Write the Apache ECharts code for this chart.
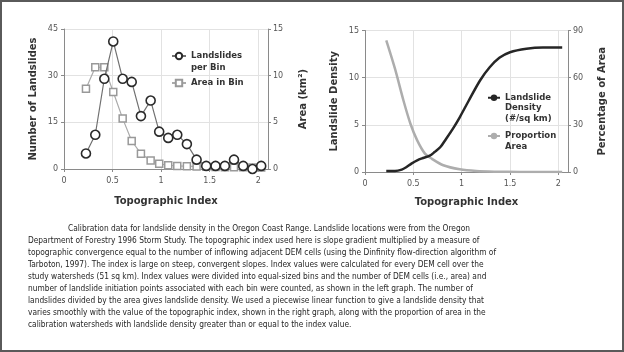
<!DOCTYPE html>
<html>
<head>
<meta charset="utf-8">
<script src="https://cdn.jsdelivr.net/npm/echarts@6/dist/echarts.min.js"></script>
<style>
html,body{margin:0;padding:0;background:#fff;}
#c{width:624px;height:352px;}
</style>
</head>
<body>
<div id="c"></div>
<script>
// ---- Left chart data ----
const binIndex = [0.226,0.322,0.415,0.507,0.604,0.697,0.792,0.892,0.98,1.073,1.166,1.265,1.365,1.464,1.56,1.656,1.75,1.845,1.94,2.03];
const landslidesPerBin = [5,11,29,41,29,28,17,22,12,10,11,8,3,1,1,1,3,1,0,1];
const areaInBin = [8.6,10.9,10.9,8.25,5.4,3.0,1.64,0.9,0.55,0.4,0.32,0.3,0.27,0.25,0.22,0.2,0.2,0.18,0.15,0.15];

// ---- Right chart data ----
const densityIndex = [0.22,0.31,0.38,0.43,0.48,0.54,0.60,0.67,0.72,0.78,0.84,0.91,0.98,1.07,1.19,1.29,1.39,1.50,1.67,1.84,2.04];
const densityValues = [0.1,0.1,0.25,0.53,0.89,1.24,1.48,1.73,2.12,2.65,3.53,4.6,5.8,7.5,9.7,11.1,12.1,12.7,13.07,13.2,13.2];
const propIndex = [0.22,0.31,0.40,0.47,0.54,0.62,0.69,0.81,0.98,1.15,1.35,1.6,2.04];
const propValues = [83.7,65.7,45,30.7,20.1,11.7,8.5,4.3,1.7,0.6,0.2,0.05,0];

// ---- Texts ----
const xTitle = 'Topographic Index';
const leftY1Title = 'Number of Landslides';
const leftY2Title = 'Area (km²)';
const rightY1Title = 'Landslide Density';
const rightY2Title = 'Percentage of Area';
const seriesNames = ['Landslides per Bin','Area in Bin','Landslide Density (#/sq km)','Proportion Area'];
const legendLabels = ['\nLandslides\nper Bin','Area in Bin','\n\nLandslide\nDensity\n(#/sq km)','\nProportion\nArea'];
const captionLines = [
 'Calibration data for landslide density in the Oregon Coast Range. Landslide locations were from the Oregon',
 'Department of Forestry 1996 Storm Study. The topographic index used here is slope gradient multiplied by a measure of',
 'topographic convergence equal to the number of inflowing adjacent DEM cells (using the Dinfinity flow-direction algorithm of',
 'Tarboton, 1997). The index is large on steep, convergent slopes. Index values were calculated for every DEM cell over the',
 'study watersheds (51 sq km). Index values were divided into equal-sized bins and the number of DEM cells (i.e., area) and',
 'number of landslide initiation points associated with each bin were counted, as shown in the left graph. The number of',
 'landslides divided by the area gives landslide density. We used a piecewise linear function to give a landslide density that',
 'varies smoothly with the value of the topographic index, shown in the right graph, along with the proportion of area in the',
 'calibration watersheds with landslide density greater than or equal to the index value.'
];

const zip = (a,b) => a.map((v,i)=>[v,b[i]]);

const FONT = 'DejaVu Sans';
const CAPFONT = '"DejaVu Sans Condensed", "DejaVu Sans", sans-serif';
const ctx = document.createElement('canvas').getContext('2d');
ctx.font = '10px ' + CAPFONT;
const capSize = 10 * 452 / ctx.measureText(captionLines[1]).width;

const labelStyle = {color:'#555', fontFamily:FONT, fontSize:8};
const nameStyle = {color:'#333', fontFamily:FONT, fontSize:10, fontWeight:'bold'};
const axLine = {show:true, lineStyle:{color:'#8a8a8a', width:1}};
const tick = {show:true, length:3, lineStyle:{color:'#8a8a8a'}};
const split = {show:true, lineStyle:{color:'#e2e2e2', width:1}};

function xAx(grid, gap){
  return {type:'value', gridIndex:grid, min:0, max:2.1, interval:0.5,
    axisLine:{...axLine, onZero:false}, axisTick:tick, splitLine:split,
    axisLabel:{...labelStyle, margin:8, showMaxLabel:false},
    name:xTitle, nameLocation:'middle', nameGap:gap, nameTextStyle:nameStyle};
}
function yAx(grid, max, interval, pos, name, gap, showSplit){
  return {type:'value', gridIndex:grid, min:0, max:max, interval:interval, position:pos,
    axisLine:axLine, axisTick:tick, splitLine:showSplit?split:{show:false},
    axisLabel:{...labelStyle, margin:pos==='left'?6:5},
    name:name, nameLocation:'middle', nameGap:gap, nameTextStyle:nameStyle};
}

const legendText = {color:'#333', fontFamily:FONT, fontSize:8.5, fontWeight:'bold'};

const chart = echarts.init(document.getElementById('c'), null, {renderer:'canvas'});
chart.setOption({
  animation:false,
  backgroundColor:'#fff',
  grid:[
    {left:64, top:29, width:204, height:140},
    {left:365, top:30.5, width:203, height:141.5}
  ],
  xAxis:[xAx(0,27), xAx(1,25)],
  yAxis:[
    yAx(0,45,15,'left',leftY1Title,26,true),
    yAx(0,15,5,'right',leftY2Title,30,false),
    yAx(1,15,5,'left',rightY1Title,26,true),
    yAx(1,90,30,'right',rightY2Title,29,false)
  ],
  legend:[
    {data:[seriesNames[0]], left:171, top:38, padding:0, itemWidth:14, itemHeight:8, formatter:()=>legendLabels[0],
     textStyle:{...legendText, lineHeight:12}},
    {data:[seriesNames[1]], left:171, top:77, padding:0, itemWidth:14, itemHeight:8, formatter:()=>legendLabels[1],
     textStyle:{...legendText, lineHeight:12}},
    {data:[seriesNames[2]], left:487, top:71.5, padding:0, itemWidth:12, itemHeight:8, formatter:()=>legendLabels[2],
     textStyle:{...legendText, lineHeight:10.5}},
    {data:[seriesNames[3]], left:487, top:119.5, padding:0, itemWidth:12, itemHeight:8, formatter:()=>legendLabels[3],
     textStyle:{...legendText, lineHeight:11}}
  ],
  series:[
    {name:seriesNames[1], type:'line', xAxisIndex:0, yAxisIndex:1, data:zip(binIndex, areaInBin),
     symbol:'rect', symbolSize:7, lineStyle:{color:'#aaaaaa', width:1.2},
     itemStyle:{color:'#fff', borderColor:'#999', borderWidth:1.5}, z:2},
    {name:seriesNames[0], type:'line', xAxisIndex:0, yAxisIndex:0, data:zip(binIndex, landslidesPerBin),
     symbol:'circle', symbolSize:9, lineStyle:{color:'#707070', width:1.2},
     itemStyle:{color:'#fff', borderColor:'#2a2a2a', borderWidth:1.6}, z:3},
    {name:seriesNames[3], type:'line', xAxisIndex:1, yAxisIndex:3, data:zip(propIndex, propValues),
     showSymbol:false, symbol:'none', smooth:0.3, lineStyle:{color:'#adadad', width:2.5}, itemStyle:{color:'#adadad'}, z:2},
    {name:seriesNames[2], type:'line', xAxisIndex:1, yAxisIndex:2, data:zip(densityIndex, densityValues),
     showSymbol:false, symbol:'none', smooth:0.3, lineStyle:{color:'#262626', width:2.5}, itemStyle:{color:'#262626'}, z:3}
  ],
  graphic:[
    {type:'rect', shape:{x:1, y:1, width:622, height:350}, style:{fill:'none', stroke:'#5a5a5a', lineWidth:2}, silent:true},
    ...captionLines.map((t,i)=>({type:'text', left: i===0?68:28, top: 229 + 12*i - capSize*0.5,
      style:{text:t, fill:'#262626', font: capSize.toFixed(2)+'px '+CAPFONT}, silent:true}))
  ]
});
</script>
</body>
</html>
